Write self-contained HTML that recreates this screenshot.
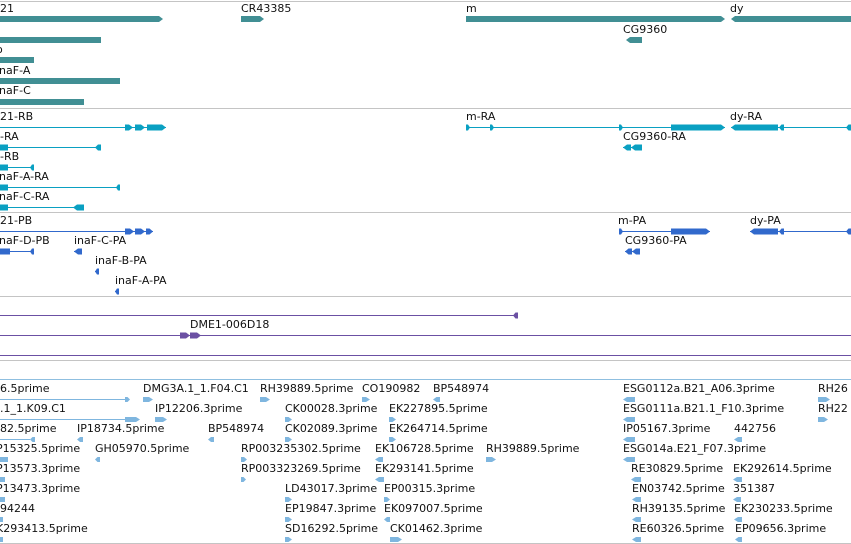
<!DOCTYPE html>
<html><head><meta charset="utf-8">
<style>
html,body{margin:0;padding:0;background:#fff;}
svg{display:block;font-family:"DejaVu Sans","Liberation Sans",sans-serif;font-size:11px;}
</style></head>
<body>
<svg id="v" width="851" height="544" viewBox="0 0 851 544" xmlns="http://www.w3.org/2000/svg"></svg>
<script>
// Track separators (y positions) and colors
const separators=[1,108,212,296,360,543];
const sepColor='#c4c4c4';
// Gene features: [x1,x2,y,dir('r'/'l'/''),label,labelX,labelY]
const genes=[[0,163,19,'r','21',0,12],[241,264,19,'r','CR43385',241,12],[466,725,19,'r','m',466,12],[731,851,19,'l','dy',730,12],
 [626,642,40,'l','CG9360',623,33],[0,101,40,'','',0,0],[0,34,60,'','o',-4,53],[0,120,81,'','inaF-A',-4,74],[0,84,102,'','inaF-C',-4,94]];
// Transcripts: [lineX1,lineX2,y,label,labelX,labelY, exons [[x1,x2,dir]]]
const transcripts=[
 [0,166,127,'21-RB',0,120,[[125,133,'r'],[135,145,'r'],[147,166,'r']]],
 [0,101,147,'-RA',0,140,[[0,8,''],[95,101,'l']]],
 [0,34,167,'-RB',0,160,[[0,8,''],[30,34,'l']]],
 [0,120,187,'inaF-A-RA',-4,180,[[0,8,''],[116,120,'l']]],
 [0,84,207,'inaF-C-RA',-4,200,[[0,8,''],[73,84,'l']]],
 [466,725,127,'m-RA',466,120,[[466,470,'r'],[490,494,'r'],[619,623,'r'],[671,725,'r']]],
 [731,851,127,'dy-RA',730,120,[[731,778,'l'],[779,784,'l'],[846,851,'l']]],
 [623,642,147,'CG9360-RA',623,140,[[623,631,'l'],[631,642,'l']]]];
const proteins=[
 [0,153,231,'21-PB',0,224,[[125,134,'r'],[135,145,'r'],[146,153,'r']]],
 [0,34,251,'inaF-D-PB',-4,244,[[0,10,''],[30,34,'l']]],
 [74,82,251,'inaF-C-PA',74,244,[[74,82,'l']]],
 [95,99,271,'inaF-B-PA',95,264,[[95,99,'l']]],
 [115,119,291,'inaF-A-PA',115,284,[[115,119,'l']]],
 [619,710,231,'m-PA',618,224,[[619,623,'r'],[671,710,'r']]],
 [750,851,231,'dy-PA',750,224,[[750,778,'l'],[779,784,'l'],[846,851,'l']]],
 [625,640,251,'CG9360-PA',625,244,[[625,632,'l'],[632,640,'l']]]];
const clones=[
 [0,517,315,'','',0,[[513,518,'l']]],
 [0,851,335,'DME1-006D18',190,328,[[180,190,'r'],[190,201,'r']]],
 [0,851,355,'','',0,[]]];
// EST rows: [label,x,row,markX1,markX2,dir,hasLine]
const ests=[
 ['6.5prime',0,0,125,130,'r',1],['DMG3A.1_1.F04.C1',143,0,143,153,'r',0],['RH39889.5prime',260,0,260,270,'r',0],['CO190982',362,0,362,370,'r',0],['BP548974',433,0,433,440,'l',0],['ESG0112a.B21_A06.3prime',623,0,623,635,'l',0],['RH26',818,0,818,830,'r',0],
 ['.1_1.K09.C1',0,1,125,140,'r',1],['IP12206.3prime',155,1,155,167,'r',0],['CK00028.3prime',285,1,285,292,'r',0],['EK227895.5prime',389,1,389,396,'r',0],['ESG0111a.B21.1_F10.3prime',623,1,623,635,'l',0],['RH22',818,1,818,828,'r',0],
 ['82.5prime',0,2,30,35,'l',1],['IP18734.5prime',77,2,77,83,'l',0],['BP548974',208,2,208,214,'l',0],['CK02089.3prime',285,2,285,292,'r',0],['EK264714.5prime',389,2,389,396,'r',0],['IP05167.3prime',623,2,623,635,'l',0],['442756',734,2,734,742,'l',0],
 ['P15325.5prime',-4,3,0,8,'',0],['GH05970.5prime',95,3,95,100,'l',0],['RP003235302.5prime',241,3,241,247,'r',0],['EK106728.5prime',375,3,375,383,'l',0],['RH39889.5prime',486,3,486,496,'r',0],['ESG014a.E21_F07.3prime',623,3,623,635,'l',0],
 ['P13573.3prime',-4,4,0,5,'',0],['RP003323269.5prime',241,4,241,246,'r',0],['EK293141.5prime',375,4,375,384,'l',0],['RE30829.5prime',631,4,631,641,'l',0],['EK292614.5prime',733,4,733,742,'l',0],
 ['P13473.3prime',-4,5,0,5,'',0],['LD43017.3prime',285,5,285,292,'r',0],['EP00315.3prime',384,5,384,390,'r',0],['EN03742.5prime',632,5,632,641,'l',0],['351387',733,5,733,741,'l',0],
 ['94244',0,6,0,3,'',0],['EP19847.3prime',285,6,285,292,'r',0],['EK097007.5prime',384,6,384,390,'l',0],['RH39135.5prime',632,6,632,641,'l',0],['EK230233.5prime',734,6,734,742,'l',0],
 ['K293413.5prime',-4,7,0,3,'',0],['SD16292.5prime',285,7,285,292,'r',0],['CK01462.3prime',390,7,390,402,'r',0],['RE60326.5prime',632,7,632,641,'l',0],['EP09656.3prime',735,7,735,742,'l',0]];

const NS='http://www.w3.org/2000/svg';
const svg=document.getElementById('v');
function mk(tag,attrs,parent){const e=document.createElementNS(NS,tag);for(const k in attrs)e.setAttribute(k,attrs[k]);(parent||svg).appendChild(e);return e;}
function txt(s,x,y,g){const t=mk('text',{x:x,y:y,fill:'#111'},g);t.textContent=s;
 
 return t;}
function block(x1,x2,y,h,dir,color,g){
 const a=Math.min(4,Math.max(2,(x2-x1)/2));let p;
 if(dir==='r')p=`${x1},${y-h/2} ${x2-a},${y-h/2} ${x2},${y} ${x2-a},${y+h/2} ${x1},${y+h/2}`;
 else if(dir==='l')p=`${x1+a},${y-h/2} ${x2},${y-h/2} ${x2},${y+h/2} ${x1+a},${y+h/2} ${x1},${y}`;
 else p=`${x1},${y-h/2} ${x2},${y-h/2} ${x2},${y+h/2} ${x1},${y+h/2}`;
 const e=mk('polygon',{points:p,fill:color},g);
 
 return e;}

separators.forEach(y=>{const l=mk('line',{x1:0,x2:851,y1:y+0.5,y2:y+0.5,stroke:sepColor,'stroke-width':1});
 
 });
mk('line',{x1:0,x2:851,y1:379.5,y2:379.5,stroke:'#8fbfe0','stroke-width':1});

const gG=mk('g',{});


genes.forEach(f=>{block(f[0],f[1],f[2],6,f[3],'#418f94',gG);if(f[4])txt(f[4],f[5],f[6],gG);});

function drawTrack(list,color,name){
 const g=mk('g',{});
 
 
 list.forEach(t=>{if(t[1]>t[0]+2)mk('line',{x1:t[0],x2:t[1],y1:t[2]+0.5,y2:t[2]+0.5,stroke:color,'stroke-width':1},g);
  t[6].forEach(e=>block(e[0],e[1],t[2]+0.5,6,e[2],color,g));
  if(t[3])txt(t[3],t[4],t[5],g);});}
drawTrack(transcripts,'#0aa0c2','transcript-track');
drawTrack(proteins,'#3169cc','protein-track');
drawTrack(clones,'#6b50a3','clone-track');

const gE=mk('g',{});


ests.forEach(e=>{const ly=392+e[2]*20,my=399.5+e[2]*20;
 txt(e[0],e[1],ly,gE);
 if(e[6])mk('line',{x1:0,x2:e[3],y1:my,y2:my,stroke:'#7fb6df','stroke-width':1},gE);
 block(e[3],e[4],my,5,e[5],'#7fb6df',gE);});
</script>
</body></html>
